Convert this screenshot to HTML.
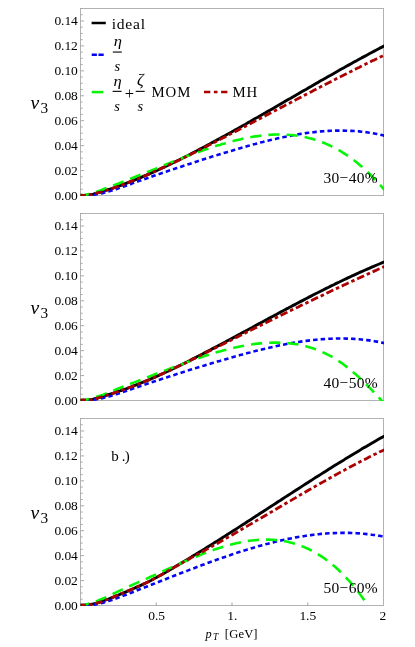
<!DOCTYPE html><html><head><meta charset="utf-8"><title>v3</title><style>html,body{margin:0;padding:0;background:#fff}svg{display:block;will-change:transform;opacity:0.999}text{font-family:"Liberation Serif",serif;fill:#000}</style></head><body>
<svg width="415" height="647" viewBox="0 0 415 647">
<rect width="415" height="647" fill="#fff"/>
<clipPath id="c0"><rect x="80.0" y="8.5" width="304.0" height="187.4"/></clipPath>
<rect x="80.5" y="8.5" width="303.0" height="187.0" fill="none" stroke="#b2b2b2" stroke-width="1"/>
<path d="M80.5 195.50h3.6 M80.5 189.27h2.2 M80.5 183.03h2.2 M80.5 176.80h2.2 M80.5 170.57h3.6 M80.5 164.33h2.2 M80.5 158.10h2.2 M80.5 151.87h2.2 M80.5 145.63h3.6 M80.5 139.40h2.2 M80.5 133.17h2.2 M80.5 126.93h2.2 M80.5 120.70h3.6 M80.5 114.47h2.2 M80.5 108.23h2.2 M80.5 102.00h2.2 M80.5 95.77h3.6 M80.5 89.53h2.2 M80.5 83.30h2.2 M80.5 77.07h2.2 M80.5 70.83h3.6 M80.5 64.60h2.2 M80.5 58.37h2.2 M80.5 52.13h2.2 M80.5 45.90h3.6 M80.5 39.67h2.2 M80.5 33.43h2.2 M80.5 27.20h2.2 M80.5 20.97h3.6 M80.5 14.73h2.2 M80.5 8.50h2.2" stroke="#a2a2a2" stroke-width="0.9" fill="none"/>
<g clip-path="url(#c0)" fill="none" stroke-linecap="butt" stroke-linejoin="round">
<path d="M80.5 195.1 L83.0 195.4 L85.6 195.3 L88.1 195.1 L90.6 194.6 L93.2 194.1 L95.7 193.4 L98.2 192.7 L100.8 192.0 L103.3 191.2 L105.8 190.4 L108.4 189.6 L110.9 188.8 L113.4 188.0 L116.0 187.1 L118.5 186.2 L121.0 185.3 L123.6 184.4 L126.1 183.4 L128.6 182.4 L131.2 181.4 L133.7 180.4 L136.2 179.4 L138.7 178.4 L141.3 177.3 L143.8 176.2 L146.3 175.2 L148.9 174.1 L151.4 172.9 L153.9 171.8 L156.5 170.7 L159.0 169.5 L161.5 168.3 L164.1 167.1 L166.6 165.9 L169.1 164.7 L171.7 163.5 L174.2 162.3 L176.7 161.0 L179.3 159.8 L181.8 158.5 L184.3 157.2 L186.9 156.0 L189.4 154.7 L191.9 153.4 L194.5 152.0 L197.0 150.7 L199.5 149.4 L202.1 148.0 L204.6 146.7 L207.1 145.4 L209.7 144.0 L212.2 142.6 L214.7 141.3 L217.3 139.9 L219.8 138.5 L222.3 137.1 L224.9 135.7 L227.4 134.3 L229.9 132.9 L232.5 131.5 L235.0 130.1 L237.5 128.7 L240.1 127.2 L242.6 125.8 L245.1 124.4 L247.6 122.9 L250.2 121.5 L252.7 120.0 L255.2 118.6 L257.8 117.2 L260.3 115.7 L262.8 114.2 L265.4 112.8 L267.9 111.3 L270.4 109.9 L273.0 108.4 L275.5 106.9 L278.0 105.5 L280.6 104.0 L283.1 102.6 L285.6 101.1 L288.2 99.6 L290.7 98.2 L293.2 96.7 L295.8 95.2 L298.3 93.8 L300.8 92.3 L303.4 90.8 L305.9 89.4 L308.4 87.9 L311.0 86.5 L313.5 85.0 L316.0 83.5 L318.6 82.1 L321.1 80.6 L323.6 79.2 L326.2 77.7 L328.7 76.3 L331.2 74.9 L333.8 73.4 L336.3 72.0 L338.8 70.6 L341.4 69.1 L343.9 67.7 L346.4 66.3 L349.0 64.9 L351.5 63.5 L354.0 62.1 L356.6 60.7 L359.1 59.3 L361.6 57.9 L364.1 56.6 L366.7 55.2 L369.2 53.8 L371.7 52.5 L374.3 51.1 L376.8 49.8 L379.3 48.4 L381.9 47.1 L384.4 45.8" stroke="#000000" stroke-width="2.90"/>
<path d="M80.5 195.2 L83.0 195.3 L85.6 195.4 L88.1 195.3 L90.6 195.1 L93.2 194.8 L95.7 194.5 L98.2 194.0 L100.8 193.5 L103.3 192.9 L105.8 192.2 L108.4 191.5 L110.9 190.8 L113.4 190.0 L116.0 189.2 L118.5 188.3 L121.0 187.5 L123.6 186.6 L126.1 185.7 L128.6 184.8 L131.2 183.9 L133.7 182.9 L136.2 182.0 L138.7 181.1 L141.3 180.3 L143.8 179.4 L146.3 178.5 L148.9 177.6 L151.4 176.7 L153.9 175.8 L156.5 174.9 L159.0 174.1 L161.5 173.2 L164.1 172.3 L166.6 171.5 L169.1 170.6 L171.7 169.8 L174.2 168.9 L176.7 168.1 L179.3 167.2 L181.8 166.4 L184.3 165.6 L186.9 164.7 L189.4 163.9 L191.9 163.1 L194.5 162.3 L197.0 161.4 L199.5 160.6 L202.1 159.8 L204.6 159.0 L207.1 158.2 L209.7 157.4 L212.2 156.6 L214.7 155.8 L217.3 155.1 L219.8 154.3 L222.3 153.5 L224.9 152.7 L227.4 152.0 L229.9 151.2 L232.5 150.5 L235.0 149.7 L237.5 149.0 L240.1 148.2 L242.6 147.5 L245.1 146.8 L247.6 146.0 L250.2 145.3 L252.7 144.6 L255.2 144.0 L257.8 143.3 L260.3 142.6 L262.8 142.0 L265.4 141.3 L267.9 140.7 L270.4 140.1 L273.0 139.5 L275.5 138.9 L278.0 138.3 L280.6 137.7 L283.1 137.2 L285.6 136.7 L288.2 136.2 L290.7 135.7 L293.2 135.2 L295.8 134.8 L298.3 134.3 L300.8 133.9 L303.4 133.5 L305.9 133.1 L308.4 132.8 L311.0 132.5 L313.5 132.2 L316.0 131.9 L318.6 131.7 L321.1 131.4 L323.6 131.2 L326.2 131.1 L328.7 130.9 L331.2 130.8 L333.8 130.7 L336.3 130.6 L338.8 130.6 L341.4 130.6 L343.9 130.6 L346.4 130.7 L349.0 130.8 L351.5 130.9 L354.0 131.0 L356.6 131.2 L359.1 131.4 L361.6 131.7 L364.1 132.0 L366.7 132.3 L369.2 132.7 L371.7 133.1 L374.3 133.5 L376.8 134.0 L379.3 134.5 L381.9 135.1 L384.4 135.7" stroke="#0505f5" stroke-width="2.60" stroke-dasharray="4.5,3.1" stroke-dashoffset="2.2"/>
<path d="M80.5 195.3 L83.0 195.1 L85.6 194.8 L88.1 194.3 L90.6 193.7 L93.2 192.9 L95.7 192.1 L98.2 191.2 L100.8 190.3 L103.3 189.3 L105.8 188.3 L108.4 187.4 L110.9 186.4 L113.4 185.4 L116.0 184.4 L118.5 183.5 L121.0 182.5 L123.6 181.5 L126.1 180.5 L128.6 179.5 L131.2 178.5 L133.7 177.5 L136.2 176.5 L138.7 175.5 L141.3 174.5 L143.8 173.5 L146.3 172.5 L148.9 171.4 L151.4 170.4 L153.9 169.4 L156.5 168.4 L159.0 167.3 L161.5 166.3 L164.1 165.3 L166.6 164.3 L169.1 163.2 L171.7 162.2 L174.2 161.2 L176.7 160.2 L179.3 159.2 L181.8 158.2 L184.3 157.3 L186.9 156.3 L189.4 155.3 L191.9 154.4 L194.5 153.4 L197.0 152.5 L199.5 151.6 L202.1 150.7 L204.6 149.8 L207.1 149.0 L209.7 148.1 L212.2 147.3 L214.7 146.4 L217.3 145.6 L219.8 144.9 L222.3 144.1 L224.9 143.4 L227.4 142.6 L229.9 141.9 L232.5 141.3 L235.0 140.6 L237.5 140.0 L240.1 139.4 L242.6 138.8 L245.1 138.3 L247.6 137.8 L250.2 137.3 L252.7 136.8 L255.2 136.4 L257.8 136.1 L260.3 135.7 L262.8 135.4 L265.4 135.1 L267.9 134.9 L270.4 134.7 L273.0 134.6 L275.5 134.5 L278.0 134.5 L280.6 134.5 L283.1 134.5 L285.6 134.6 L288.2 134.8 L290.7 135.0 L293.2 135.2 L295.8 135.5 L298.3 135.9 L300.8 136.3 L303.4 136.8 L305.9 137.3 L308.4 137.9 L311.0 138.6 L313.5 139.3 L316.0 140.1 L318.6 140.9 L321.1 141.8 L323.6 142.8 L326.2 143.9 L328.7 145.0 L331.2 146.2 L333.8 147.4 L336.3 148.8 L338.8 150.2 L341.4 151.7 L343.9 153.3 L346.4 154.9 L349.0 156.6 L351.5 158.5 L354.0 160.3 L356.6 162.3 L359.1 164.4 L361.6 166.5 L364.1 168.8 L366.7 171.1 L369.2 173.5 L371.7 176.0 L374.3 178.6 L376.8 181.3 L379.3 184.1 L381.9 187.0 L384.4 190.0" stroke="#05f505" stroke-width="2.60" stroke-dasharray="11.2,7.01" stroke-dashoffset="2.2"/>
<path d="M80.5 195.1 L83.0 195.3 L85.6 195.3 L88.1 195.0 L90.6 194.6 L93.2 194.1 L95.7 193.4 L98.2 192.7 L100.8 192.0 L103.3 191.2 L105.8 190.5 L108.4 189.7 L110.9 188.8 L113.4 188.0 L116.0 187.1 L118.5 186.2 L121.0 185.3 L123.6 184.4 L126.1 183.4 L128.6 182.4 L131.2 181.4 L133.7 180.4 L136.2 179.4 L138.7 178.4 L141.3 177.3 L143.8 176.2 L146.3 175.2 L148.9 174.1 L151.4 172.9 L153.9 171.8 L156.5 170.7 L159.0 169.5 L161.5 168.4 L164.1 167.2 L166.6 166.0 L169.1 164.8 L171.7 163.6 L174.2 162.4 L176.7 161.2 L179.3 160.0 L181.8 158.7 L184.3 157.5 L186.9 156.3 L189.4 155.0 L191.9 153.7 L194.5 152.5 L197.0 151.2 L199.5 149.9 L202.1 148.6 L204.6 147.4 L207.1 146.1 L209.7 144.8 L212.2 143.5 L214.7 142.2 L217.3 140.9 L219.8 139.6 L222.3 138.3 L224.9 137.0 L227.4 135.6 L229.9 134.3 L232.5 133.0 L235.0 131.7 L237.5 130.4 L240.1 129.1 L242.6 127.7 L245.1 126.4 L247.6 125.1 L250.2 123.8 L252.7 122.4 L255.2 121.1 L257.8 119.8 L260.3 118.4 L262.8 117.1 L265.4 115.8 L267.9 114.4 L270.4 113.1 L273.0 111.8 L275.5 110.4 L278.0 109.1 L280.6 107.8 L283.1 106.5 L285.6 105.1 L288.2 103.8 L290.7 102.5 L293.2 101.1 L295.8 99.8 L298.3 98.5 L300.8 97.2 L303.4 95.8 L305.9 94.5 L308.4 93.2 L311.0 91.9 L313.5 90.6 L316.0 89.3 L318.6 87.9 L321.1 86.6 L323.6 85.3 L326.2 84.0 L328.7 82.7 L331.2 81.4 L333.8 80.1 L336.3 78.8 L338.8 77.5 L341.4 76.3 L343.9 75.0 L346.4 73.7 L349.0 72.4 L351.5 71.2 L354.0 69.9 L356.6 68.6 L359.1 67.4 L361.6 66.1 L364.1 64.9 L366.7 63.6 L369.2 62.4 L371.7 61.1 L374.3 59.9 L376.8 58.7 L379.3 57.5 L381.9 56.3 L384.4 55.0" stroke="#ac0000" stroke-width="2.80" stroke-dasharray="7.63,2.92,3.5,2.92" stroke-dashoffset="2.2"/>
</g>
<text x="77.7" y="200.00" font-size="13.5" text-anchor="end" letter-spacing="-0.1">0.00</text>
<text x="77.7" y="175.07" font-size="13.5" text-anchor="end" letter-spacing="-0.1">0.02</text>
<text x="77.7" y="150.13" font-size="13.5" text-anchor="end" letter-spacing="-0.1">0.04</text>
<text x="77.7" y="125.20" font-size="13.5" text-anchor="end" letter-spacing="-0.1">0.06</text>
<text x="77.7" y="100.27" font-size="13.5" text-anchor="end" letter-spacing="-0.1">0.08</text>
<text x="77.7" y="75.33" font-size="13.5" text-anchor="end" letter-spacing="-0.1">0.10</text>
<text x="77.7" y="50.40" font-size="13.5" text-anchor="end" letter-spacing="-0.1">0.12</text>
<text x="77.7" y="25.47" font-size="13.5" text-anchor="end" letter-spacing="-0.1">0.14</text>
<text x="30.6" y="108.5" font-size="19.6" font-style="italic">v</text><text x="40.6" y="112.5" font-size="15.3">3</text>
<clipPath id="c1"><rect x="80.0" y="213.5" width="304.0" height="187.4"/></clipPath>
<rect x="80.5" y="213.5" width="303.0" height="187.0" fill="none" stroke="#b2b2b2" stroke-width="1"/>
<path d="M80.5 400.50h3.6 M80.5 394.27h2.2 M80.5 388.03h2.2 M80.5 381.80h2.2 M80.5 375.57h3.6 M80.5 369.33h2.2 M80.5 363.10h2.2 M80.5 356.87h2.2 M80.5 350.63h3.6 M80.5 344.40h2.2 M80.5 338.17h2.2 M80.5 331.93h2.2 M80.5 325.70h3.6 M80.5 319.47h2.2 M80.5 313.23h2.2 M80.5 307.00h2.2 M80.5 300.77h3.6 M80.5 294.53h2.2 M80.5 288.30h2.2 M80.5 282.07h2.2 M80.5 275.83h3.6 M80.5 269.60h2.2 M80.5 263.37h2.2 M80.5 257.13h2.2 M80.5 250.90h3.6 M80.5 244.67h2.2 M80.5 238.43h2.2 M80.5 232.20h2.2 M80.5 225.97h3.6 M80.5 219.73h2.2 M80.5 213.50h2.2" stroke="#a2a2a2" stroke-width="0.9" fill="none"/>
<g clip-path="url(#c1)" fill="none" stroke-linecap="butt" stroke-linejoin="round">
<path d="M80.5 400.1 L83.0 400.2 L85.6 400.2 L88.1 400.1 L90.6 399.8 L93.2 399.2 L95.7 398.5 L98.2 397.8 L100.8 397.0 L103.3 396.3 L105.8 395.5 L108.4 394.7 L110.9 393.9 L113.4 393.1 L116.0 392.3 L118.5 391.4 L121.0 390.5 L123.6 389.7 L126.1 388.8 L128.6 387.8 L131.2 386.9 L133.7 385.9 L136.2 384.9 L138.7 383.9 L141.3 382.9 L143.8 381.9 L146.3 380.8 L148.9 379.8 L151.4 378.7 L153.9 377.6 L156.5 376.4 L159.0 375.3 L161.5 374.1 L164.1 373.0 L166.6 371.8 L169.1 370.6 L171.7 369.4 L174.2 368.2 L176.7 367.0 L179.3 365.7 L181.8 364.5 L184.3 363.2 L186.9 362.0 L189.4 360.7 L191.9 359.4 L194.5 358.1 L197.0 356.8 L199.5 355.5 L202.1 354.2 L204.6 352.9 L207.1 351.6 L209.7 350.2 L212.2 348.9 L214.7 347.6 L217.3 346.2 L219.8 344.9 L222.3 343.5 L224.9 342.2 L227.4 340.8 L229.9 339.5 L232.5 338.1 L235.0 336.7 L237.5 335.4 L240.1 334.0 L242.6 332.6 L245.1 331.3 L247.6 329.9 L250.2 328.5 L252.7 327.2 L255.2 325.8 L257.8 324.4 L260.3 323.1 L262.8 321.7 L265.4 320.3 L267.9 318.9 L270.4 317.6 L273.0 316.2 L275.5 314.9 L278.0 313.5 L280.6 312.1 L283.1 310.8 L285.6 309.4 L288.2 308.1 L290.7 306.7 L293.2 305.4 L295.8 304.1 L298.3 302.7 L300.8 301.4 L303.4 300.1 L305.9 298.8 L308.4 297.4 L311.0 296.1 L313.5 294.8 L316.0 293.5 L318.6 292.3 L321.1 291.0 L323.6 289.7 L326.2 288.4 L328.7 287.2 L331.2 285.9 L333.8 284.7 L336.3 283.4 L338.8 282.2 L341.4 281.0 L343.9 279.8 L346.4 278.6 L349.0 277.4 L351.5 276.2 L354.0 275.1 L356.6 273.9 L359.1 272.7 L361.6 271.6 L364.1 270.5 L366.7 269.4 L369.2 268.3 L371.7 267.2 L374.3 266.1 L376.8 265.0 L379.3 264.0 L381.9 262.9 L384.4 261.9" stroke="#000000" stroke-width="2.90"/>
<path d="M80.5 400.3 L83.0 400.4 L85.6 400.4 L88.1 400.2 L90.6 400.0 L93.2 399.7 L95.7 399.4 L98.2 398.9 L100.8 398.4 L103.3 397.9 L105.8 397.2 L108.4 396.6 L110.9 395.9 L113.4 395.1 L116.0 394.3 L118.5 393.5 L121.0 392.7 L123.6 391.8 L126.1 391.0 L128.6 390.1 L131.2 389.3 L133.7 388.4 L136.2 387.5 L138.7 386.7 L141.3 385.8 L143.8 385.0 L146.3 384.1 L148.9 383.3 L151.4 382.4 L153.9 381.6 L156.5 380.7 L159.0 379.9 L161.5 379.1 L164.1 378.2 L166.6 377.4 L169.1 376.6 L171.7 375.8 L174.2 375.0 L176.7 374.1 L179.3 373.3 L181.8 372.5 L184.3 371.7 L186.9 370.9 L189.4 370.1 L191.9 369.3 L194.5 368.5 L197.0 367.8 L199.5 367.0 L202.1 366.2 L204.6 365.4 L207.1 364.7 L209.7 363.9 L212.2 363.1 L214.7 362.4 L217.3 361.6 L219.8 360.9 L222.3 360.1 L224.9 359.4 L227.4 358.7 L229.9 358.0 L232.5 357.2 L235.0 356.5 L237.5 355.8 L240.1 355.1 L242.6 354.4 L245.1 353.7 L247.6 353.0 L250.2 352.4 L252.7 351.7 L255.2 351.1 L257.8 350.4 L260.3 349.8 L262.8 349.2 L265.4 348.6 L267.9 348.0 L270.4 347.4 L273.0 346.8 L275.5 346.3 L278.0 345.7 L280.6 345.2 L283.1 344.7 L285.6 344.2 L288.2 343.7 L290.7 343.3 L293.2 342.8 L295.8 342.4 L298.3 342.0 L300.8 341.6 L303.4 341.2 L305.9 340.9 L308.4 340.6 L311.0 340.3 L313.5 340.0 L316.0 339.7 L318.6 339.5 L321.1 339.3 L323.6 339.1 L326.2 338.9 L328.7 338.8 L331.2 338.7 L333.8 338.6 L336.3 338.5 L338.8 338.5 L341.4 338.5 L343.9 338.5 L346.4 338.6 L349.0 338.7 L351.5 338.8 L354.0 338.9 L356.6 339.1 L359.1 339.3 L361.6 339.5 L364.1 339.8 L366.7 340.1 L369.2 340.4 L371.7 340.8 L374.3 341.2 L376.8 341.6 L379.3 342.1 L381.9 342.6 L384.4 343.2" stroke="#0505f5" stroke-width="2.60" stroke-dasharray="4.5,3.1" stroke-dashoffset="2.2"/>
<path d="M80.5 400.3 L83.0 400.1 L85.6 399.7 L88.1 399.2 L90.6 398.6 L93.2 397.9 L95.7 397.1 L98.2 396.3 L100.8 395.5 L103.3 394.6 L105.8 393.6 L108.4 392.6 L110.9 391.6 L113.4 390.6 L116.0 389.5 L118.5 388.5 L121.0 387.5 L123.6 386.5 L126.1 385.5 L128.6 384.5 L131.2 383.5 L133.7 382.6 L136.2 381.6 L138.7 380.6 L141.3 379.7 L143.8 378.7 L146.3 377.7 L148.9 376.8 L151.4 375.8 L153.9 374.8 L156.5 373.8 L159.0 372.9 L161.5 371.9 L164.1 370.9 L166.6 369.9 L169.1 369.0 L171.7 368.0 L174.2 367.0 L176.7 366.1 L179.3 365.1 L181.8 364.2 L184.3 363.2 L186.9 362.3 L189.4 361.4 L191.9 360.5 L194.5 359.6 L197.0 358.7 L199.5 357.8 L202.1 356.9 L204.6 356.1 L207.1 355.3 L209.7 354.5 L212.2 353.7 L214.7 352.9 L217.3 352.1 L219.8 351.4 L222.3 350.7 L224.9 350.0 L227.4 349.4 L229.9 348.7 L232.5 348.1 L235.0 347.5 L237.5 347.0 L240.1 346.5 L242.6 346.0 L245.1 345.5 L247.6 345.1 L250.2 344.6 L252.7 344.3 L255.2 343.9 L257.8 343.6 L260.3 343.4 L262.8 343.2 L265.4 343.0 L267.9 342.8 L270.4 342.7 L273.0 342.6 L275.5 342.6 L278.0 342.6 L280.6 342.7 L283.1 342.8 L285.6 343.0 L288.2 343.2 L290.7 343.4 L293.2 343.7 L295.8 344.1 L298.3 344.5 L300.8 345.0 L303.4 345.6 L305.9 346.2 L308.4 346.9 L311.0 347.7 L313.5 348.5 L316.0 349.4 L318.6 350.4 L321.1 351.4 L323.6 352.6 L326.2 353.8 L328.7 355.1 L331.2 356.4 L333.8 357.9 L336.3 359.5 L338.8 361.1 L341.4 362.8 L343.9 364.7 L346.4 366.6 L349.0 368.6 L351.5 370.7 L354.0 372.9 L356.6 375.1 L359.1 377.4 L361.6 379.8 L364.1 382.3 L366.7 384.8 L369.2 387.3 L371.7 389.9 L374.3 392.6 L376.8 395.3 L379.3 398.0 L381.9 400.8 L384.4 403.6" stroke="#05f505" stroke-width="2.60" stroke-dasharray="11.2,7.01" stroke-dashoffset="2.2"/>
<path d="M80.5 400.1 L83.0 400.0 L85.6 400.1 L88.1 400.1 L90.6 399.8 L93.2 399.3 L95.7 398.6 L98.2 397.8 L100.8 397.0 L103.3 396.3 L105.8 395.5 L108.4 394.7 L110.9 393.9 L113.4 393.1 L116.0 392.2 L118.5 391.4 L121.0 390.5 L123.6 389.6 L126.1 388.7 L128.6 387.8 L131.2 386.9 L133.7 385.9 L136.2 385.0 L138.7 384.0 L141.3 382.9 L143.8 381.9 L146.3 380.8 L148.9 379.8 L151.4 378.7 L153.9 377.6 L156.5 376.5 L159.0 375.3 L161.5 374.2 L164.1 373.0 L166.6 371.8 L169.1 370.7 L171.7 369.5 L174.2 368.3 L176.7 367.0 L179.3 365.8 L181.8 364.6 L184.3 363.4 L186.9 362.1 L189.4 360.9 L191.9 359.6 L194.5 358.4 L197.0 357.1 L199.5 355.8 L202.1 354.6 L204.6 353.3 L207.1 352.1 L209.7 350.8 L212.2 349.5 L214.7 348.3 L217.3 347.0 L219.8 345.7 L222.3 344.5 L224.9 343.2 L227.4 341.9 L229.9 340.7 L232.5 339.4 L235.0 338.1 L237.5 336.9 L240.1 335.6 L242.6 334.4 L245.1 333.1 L247.6 331.8 L250.2 330.6 L252.7 329.3 L255.2 328.1 L257.8 326.8 L260.3 325.5 L262.8 324.3 L265.4 323.0 L267.9 321.8 L270.4 320.5 L273.0 319.3 L275.5 318.0 L278.0 316.8 L280.6 315.5 L283.1 314.3 L285.6 313.0 L288.2 311.8 L290.7 310.6 L293.2 309.3 L295.8 308.1 L298.3 306.9 L300.8 305.6 L303.4 304.4 L305.9 303.2 L308.4 301.9 L311.0 300.7 L313.5 299.5 L316.0 298.3 L318.6 297.1 L321.1 295.9 L323.6 294.7 L326.2 293.4 L328.7 292.2 L331.2 291.0 L333.8 289.8 L336.3 288.6 L338.8 287.5 L341.4 286.3 L343.9 285.1 L346.4 283.9 L349.0 282.7 L351.5 281.5 L354.0 280.4 L356.6 279.2 L359.1 278.0 L361.6 276.9 L364.1 275.7 L366.7 274.5 L369.2 273.4 L371.7 272.2 L374.3 271.1 L376.8 270.0 L379.3 268.8 L381.9 267.7 L384.4 266.6" stroke="#ac0000" stroke-width="2.80" stroke-dasharray="7.63,2.92,3.5,2.92" stroke-dashoffset="2.2"/>
</g>
<text x="77.7" y="405.00" font-size="13.5" text-anchor="end" letter-spacing="-0.1">0.00</text>
<text x="77.7" y="380.07" font-size="13.5" text-anchor="end" letter-spacing="-0.1">0.02</text>
<text x="77.7" y="355.13" font-size="13.5" text-anchor="end" letter-spacing="-0.1">0.04</text>
<text x="77.7" y="330.20" font-size="13.5" text-anchor="end" letter-spacing="-0.1">0.06</text>
<text x="77.7" y="305.27" font-size="13.5" text-anchor="end" letter-spacing="-0.1">0.08</text>
<text x="77.7" y="280.33" font-size="13.5" text-anchor="end" letter-spacing="-0.1">0.10</text>
<text x="77.7" y="255.40" font-size="13.5" text-anchor="end" letter-spacing="-0.1">0.12</text>
<text x="77.7" y="230.47" font-size="13.5" text-anchor="end" letter-spacing="-0.1">0.14</text>
<text x="30.6" y="313.5" font-size="19.6" font-style="italic">v</text><text x="40.6" y="317.5" font-size="15.3">3</text>
<clipPath id="c2"><rect x="80.0" y="418.5" width="304.0" height="187.4"/></clipPath>
<rect x="80.5" y="418.5" width="303.0" height="187.0" fill="none" stroke="#b2b2b2" stroke-width="1"/>
<path d="M80.5 605.50h3.6 M80.5 599.27h2.2 M80.5 593.03h2.2 M80.5 586.80h2.2 M80.5 580.57h3.6 M80.5 574.33h2.2 M80.5 568.10h2.2 M80.5 561.87h2.2 M80.5 555.63h3.6 M80.5 549.40h2.2 M80.5 543.17h2.2 M80.5 536.93h2.2 M80.5 530.70h3.6 M80.5 524.47h2.2 M80.5 518.23h2.2 M80.5 512.00h2.2 M80.5 505.77h3.6 M80.5 499.53h2.2 M80.5 493.30h2.2 M80.5 487.07h2.2 M80.5 480.83h3.6 M80.5 474.60h2.2 M80.5 468.37h2.2 M80.5 462.13h2.2 M80.5 455.90h3.6 M80.5 449.67h2.2 M80.5 443.43h2.2 M80.5 437.20h2.2 M80.5 430.97h3.6 M80.5 424.73h2.2 M80.5 418.50h2.2" stroke="#a2a2a2" stroke-width="0.9" fill="none"/>
<path d="M156.25 605.5v-3.0 M232.00 605.5v-3.0 M307.75 605.5v-3.0" stroke="#9a9a9a" stroke-width="0.9" fill="none"/>
<g clip-path="url(#c2)" fill="none" stroke-linecap="butt" stroke-linejoin="round">
<path d="M80.5 605.2 L83.0 605.2 L85.6 605.1 L88.1 604.8 L90.6 604.4 L93.2 603.9 L95.7 603.3 L98.2 602.6 L100.8 601.8 L103.3 600.9 L105.8 600.0 L108.4 599.1 L110.9 598.1 L113.4 597.1 L116.0 596.0 L118.5 595.0 L121.0 593.9 L123.6 592.9 L126.1 591.8 L128.6 590.7 L131.2 589.6 L133.7 588.5 L136.2 587.4 L138.7 586.3 L141.3 585.1 L143.8 583.9 L146.3 582.7 L148.9 581.5 L151.4 580.2 L153.9 578.8 L156.5 577.5 L159.0 576.1 L161.5 574.7 L164.1 573.2 L166.6 571.8 L169.1 570.3 L171.7 568.8 L174.2 567.3 L176.7 565.8 L179.3 564.3 L181.8 562.7 L184.3 561.2 L186.9 559.7 L189.4 558.2 L191.9 556.6 L194.5 555.1 L197.0 553.5 L199.5 552.0 L202.1 550.4 L204.6 548.9 L207.1 547.3 L209.7 545.7 L212.2 544.1 L214.7 542.5 L217.3 541.0 L219.8 539.4 L222.3 537.8 L224.9 536.1 L227.4 534.5 L229.9 532.9 L232.5 531.3 L235.0 529.7 L237.5 528.1 L240.1 526.4 L242.6 524.8 L245.1 523.2 L247.6 521.5 L250.2 519.9 L252.7 518.3 L255.2 516.6 L257.8 515.0 L260.3 513.3 L262.8 511.7 L265.4 510.1 L267.9 508.4 L270.4 506.8 L273.0 505.1 L275.5 503.5 L278.0 501.8 L280.6 500.2 L283.1 498.5 L285.6 496.9 L288.2 495.2 L290.7 493.6 L293.2 492.0 L295.8 490.3 L298.3 488.7 L300.8 487.1 L303.4 485.4 L305.9 483.8 L308.4 482.2 L311.0 480.6 L313.5 478.9 L316.0 477.3 L318.6 475.7 L321.1 474.1 L323.6 472.5 L326.2 470.9 L328.7 469.3 L331.2 467.7 L333.8 466.1 L336.3 464.6 L338.8 463.0 L341.4 461.4 L343.9 459.9 L346.4 458.3 L349.0 456.8 L351.5 455.2 L354.0 453.7 L356.6 452.2 L359.1 450.7 L361.6 449.1 L364.1 447.6 L366.7 446.2 L369.2 444.7 L371.7 443.2 L374.3 441.7 L376.8 440.3 L379.3 438.8 L381.9 437.4 L384.4 435.9" stroke="#000000" stroke-width="2.90"/>
<path d="M80.5 605.1 L83.0 605.3 L85.6 605.4 L88.1 605.3 L90.6 605.2 L93.2 604.8 L95.7 604.4 L98.2 603.9 L100.8 603.3 L103.3 602.7 L105.8 601.9 L108.4 601.1 L110.9 600.3 L113.4 599.4 L116.0 598.5 L118.5 597.6 L121.0 596.6 L123.6 595.6 L126.1 594.7 L128.6 593.7 L131.2 592.7 L133.7 591.7 L136.2 590.7 L138.7 589.7 L141.3 588.7 L143.8 587.8 L146.3 586.8 L148.9 585.8 L151.4 584.8 L153.9 583.8 L156.5 582.8 L159.0 581.8 L161.5 580.8 L164.1 579.8 L166.6 578.8 L169.1 577.8 L171.7 576.8 L174.2 575.8 L176.7 574.8 L179.3 573.8 L181.8 572.8 L184.3 571.8 L186.9 570.9 L189.4 569.9 L191.9 568.9 L194.5 568.0 L197.0 567.0 L199.5 566.0 L202.1 565.1 L204.6 564.2 L207.1 563.2 L209.7 562.3 L212.2 561.4 L214.7 560.5 L217.3 559.6 L219.8 558.7 L222.3 557.8 L224.9 556.9 L227.4 556.0 L229.9 555.2 L232.5 554.3 L235.0 553.5 L237.5 552.6 L240.1 551.8 L242.6 551.0 L245.1 550.2 L247.6 549.4 L250.2 548.7 L252.7 547.9 L255.2 547.2 L257.8 546.4 L260.3 545.7 L262.8 545.0 L265.4 544.3 L267.9 543.7 L270.4 543.0 L273.0 542.4 L275.5 541.8 L278.0 541.1 L280.6 540.6 L283.1 540.0 L285.6 539.4 L288.2 538.9 L290.7 538.4 L293.2 537.9 L295.8 537.4 L298.3 537.0 L300.8 536.6 L303.4 536.2 L305.9 535.8 L308.4 535.4 L311.0 535.1 L313.5 534.7 L316.0 534.4 L318.6 534.2 L321.1 533.9 L323.6 533.7 L326.2 533.5 L328.7 533.3 L331.2 533.2 L333.8 533.1 L336.3 533.0 L338.8 532.9 L341.4 532.9 L343.9 532.8 L346.4 532.9 L349.0 532.9 L351.5 533.0 L354.0 533.1 L356.6 533.2 L359.1 533.4 L361.6 533.6 L364.1 533.8 L366.7 534.1 L369.2 534.3 L371.7 534.7 L374.3 535.0 L376.8 535.4 L379.3 535.8 L381.9 536.3 L384.4 536.8" stroke="#0505f5" stroke-width="2.60" stroke-dasharray="4.5,3.1" stroke-dashoffset="2.2"/>
<path d="M80.5 605.3 L82.9 605.0 L85.3 604.6 L87.6 604.0 L90.0 603.4 L92.4 602.7 L94.8 601.9 L97.2 601.0 L99.5 600.0 L101.9 599.0 L104.3 598.0 L106.7 596.9 L109.1 595.8 L111.5 594.6 L113.8 593.5 L116.2 592.4 L118.6 591.2 L121.0 590.1 L123.4 589.0 L125.7 587.9 L128.1 586.8 L130.5 585.7 L132.9 584.7 L135.3 583.6 L137.6 582.6 L140.0 581.5 L142.4 580.5 L144.8 579.4 L147.2 578.4 L149.6 577.3 L151.9 576.2 L154.3 575.2 L156.7 574.1 L159.1 573.0 L161.5 571.9 L163.8 570.8 L166.2 569.8 L168.6 568.7 L171.0 567.6 L173.4 566.5 L175.7 565.4 L178.1 564.4 L180.5 563.3 L182.9 562.3 L185.3 561.2 L187.6 560.2 L190.0 559.2 L192.4 558.2 L194.8 557.2 L197.2 556.2 L199.6 555.2 L201.9 554.3 L204.3 553.3 L206.7 552.4 L209.1 551.5 L211.5 550.7 L213.8 549.8 L216.2 549.0 L218.6 548.2 L221.0 547.5 L223.4 546.7 L225.7 546.0 L228.1 545.3 L230.5 544.7 L232.9 544.1 L235.3 543.5 L237.7 543.0 L240.0 542.5 L242.4 542.0 L244.8 541.5 L247.2 541.2 L249.6 540.8 L251.9 540.5 L254.3 540.2 L256.7 540.0 L259.1 539.8 L261.5 539.7 L263.8 539.6 L266.2 539.6 L268.6 539.6 L271.0 539.7 L273.4 539.8 L275.7 540.0 L278.1 540.2 L280.5 540.6 L282.9 540.9 L285.3 541.3 L287.7 541.8 L290.0 542.4 L292.4 543.0 L294.8 543.7 L297.2 544.4 L299.6 545.3 L301.9 546.2 L304.3 547.1 L306.7 548.2 L309.1 549.3 L311.5 550.5 L313.8 551.8 L316.2 553.1 L318.6 554.6 L321.0 556.1 L323.4 557.7 L325.8 559.4 L328.1 561.2 L330.5 563.1 L332.9 565.0 L335.3 567.1 L337.7 569.2 L340.0 571.5 L342.4 573.8 L344.8 576.3 L347.2 578.8 L349.6 581.4 L351.9 584.2 L354.3 587.0 L356.7 590.0 L359.1 593.0 L361.5 596.2 L363.8 599.4 L366.2 602.8" stroke="#05f505" stroke-width="2.60" stroke-dasharray="11.2,7.01" stroke-dashoffset="2.2"/>
<path d="M80.5 605.1 L83.0 605.2 L85.6 605.1 L88.1 604.9 L90.6 604.5 L93.2 604.0 L95.7 603.4 L98.2 602.6 L100.8 601.8 L103.3 600.9 L105.8 600.0 L108.4 599.0 L110.9 598.0 L113.4 597.0 L116.0 595.9 L118.5 594.9 L121.0 593.9 L123.6 592.8 L126.1 591.7 L128.6 590.7 L131.2 589.6 L133.7 588.5 L136.2 587.4 L138.7 586.3 L141.3 585.2 L143.8 584.0 L146.3 582.8 L148.9 581.5 L151.4 580.2 L153.9 578.9 L156.5 577.5 L159.0 576.1 L161.5 574.7 L164.1 573.3 L166.6 571.8 L169.1 570.3 L171.7 568.9 L174.2 567.4 L176.7 565.9 L179.3 564.5 L181.8 563.0 L184.3 561.6 L186.9 560.2 L189.4 558.8 L191.9 557.4 L194.5 556.0 L197.0 554.6 L199.5 553.3 L202.1 551.9 L204.6 550.5 L207.1 549.1 L209.7 547.7 L212.2 546.2 L214.7 544.8 L217.3 543.4 L219.8 542.0 L222.3 540.5 L224.9 539.1 L227.4 537.6 L229.9 536.2 L232.5 534.7 L235.0 533.3 L237.5 531.8 L240.1 530.3 L242.6 528.8 L245.1 527.4 L247.6 525.9 L250.2 524.4 L252.7 522.9 L255.2 521.4 L257.8 519.9 L260.3 518.4 L262.8 517.0 L265.4 515.5 L267.9 514.0 L270.4 512.5 L273.0 511.0 L275.5 509.5 L278.0 508.0 L280.6 506.5 L283.1 505.0 L285.6 503.5 L288.2 502.0 L290.7 500.6 L293.2 499.1 L295.8 497.6 L298.3 496.1 L300.8 494.6 L303.4 493.2 L305.9 491.7 L308.4 490.2 L311.0 488.8 L313.5 487.3 L316.0 485.9 L318.6 484.4 L321.1 483.0 L323.6 481.6 L326.2 480.2 L328.7 478.7 L331.2 477.3 L333.8 475.9 L336.3 474.5 L338.8 473.1 L341.4 471.7 L343.9 470.4 L346.4 469.0 L349.0 467.6 L351.5 466.3 L354.0 465.0 L356.6 463.6 L359.1 462.3 L361.6 461.0 L364.1 459.7 L366.7 458.4 L369.2 457.1 L371.7 455.9 L374.3 454.6 L376.8 453.4 L379.3 452.1 L381.9 450.9 L384.4 449.7" stroke="#ac0000" stroke-width="2.80" stroke-dasharray="7.63,2.92,3.5,2.92" stroke-dashoffset="2.2"/>
</g>
<text x="77.7" y="610.00" font-size="13.5" text-anchor="end" letter-spacing="-0.1">0.00</text>
<text x="77.7" y="585.07" font-size="13.5" text-anchor="end" letter-spacing="-0.1">0.02</text>
<text x="77.7" y="560.13" font-size="13.5" text-anchor="end" letter-spacing="-0.1">0.04</text>
<text x="77.7" y="535.20" font-size="13.5" text-anchor="end" letter-spacing="-0.1">0.06</text>
<text x="77.7" y="510.27" font-size="13.5" text-anchor="end" letter-spacing="-0.1">0.08</text>
<text x="77.7" y="485.33" font-size="13.5" text-anchor="end" letter-spacing="-0.1">0.10</text>
<text x="77.7" y="460.40" font-size="13.5" text-anchor="end" letter-spacing="-0.1">0.12</text>
<text x="77.7" y="435.47" font-size="13.5" text-anchor="end" letter-spacing="-0.1">0.14</text>
<text x="30.6" y="518.5" font-size="19.6" font-style="italic">v</text><text x="40.6" y="522.5" font-size="15.3">3</text>
<text x="156.55" y="619.7" font-size="13.5" text-anchor="middle" letter-spacing="-0.1">0.5</text>
<text x="232.30" y="619.7" font-size="13.5" text-anchor="middle" letter-spacing="-0.1">1.</text>
<text x="307.75" y="619.7" font-size="13.5" text-anchor="middle" letter-spacing="-0.1">1.5</text>
<text x="382.90" y="619.7" font-size="13.5" text-anchor="middle" letter-spacing="-0.1">2</text>
<text x="205.4" y="637.6" font-size="12.4" font-style="italic">p</text><text x="213.0" y="640" font-size="9.4" font-style="italic">T</text><text x="224.8" y="637.7" font-size="12.6" letter-spacing="0.15">[GeV]</text>
<text x="323.5" y="182.8" font-size="15.5" letter-spacing="0.3">30−40%</text>
<text x="323.5" y="387.8" font-size="15.5" letter-spacing="0.3">40−50%</text>
<text x="323.5" y="592.8" font-size="15.5" letter-spacing="0.3">50−60%</text>
<text x="111.2" y="460.9" font-size="15" letter-spacing="1.1">b<tspan dx="1.9">.</tspan><tspan dx="-1.9">)</tspan></text>
<g id="legend">
<path d="M91.6 23h14.2" stroke="#000" stroke-width="2.5"/>
<text x="111.7" y="28.9" font-size="15.6" letter-spacing="0.75">ideal</text>
<path d="M91.7 54.75h12" stroke="#0505f5" stroke-width="2.6" stroke-dasharray="5.2,1.6"/>
<text transform="translate(113.70 46.40) scale(1.1 0.98)" x="0" y="0" font-size="15" font-style="italic">η</text><path d="M112.80 52.05h9" stroke="#000" stroke-width="1.1"/><text x="114.50" y="71.20" font-size="14.4" font-style="italic">s</text>
<path d="M91.7 92.1h11.5" stroke="#05f505" stroke-width="2.5"/>
<text transform="translate(113.50 85.70) scale(1.1 0.98)" x="0" y="0" font-size="15" font-style="italic">η</text><path d="M112.60 91.35h9" stroke="#000" stroke-width="1.1"/><text x="114.30" y="110.50" font-size="14.4" font-style="italic">s</text>
<text x="124.8" y="99.0" font-size="16.5">+</text>
<text transform="translate(137.10 85.45) scale(1.1 1.06)" x="0" y="0" font-size="15" font-style="italic">ζ</text><path d="M135.70 91.35h9" stroke="#000" stroke-width="1.1"/><text x="137.40" y="110.50" font-size="14.4" font-style="italic">s</text>
<text x="151.5" y="97.1" font-size="14.8" letter-spacing="0.9">MOM</text>
<path d="M204 92.1h23.4" stroke="#ac0000" stroke-width="2.5" stroke-dasharray="6.3,3.6,3.6,3.6"/>
<text x="232.5" y="97.1" font-size="14.8" letter-spacing="0.9">MH</text>
</g>
</svg></body></html>
